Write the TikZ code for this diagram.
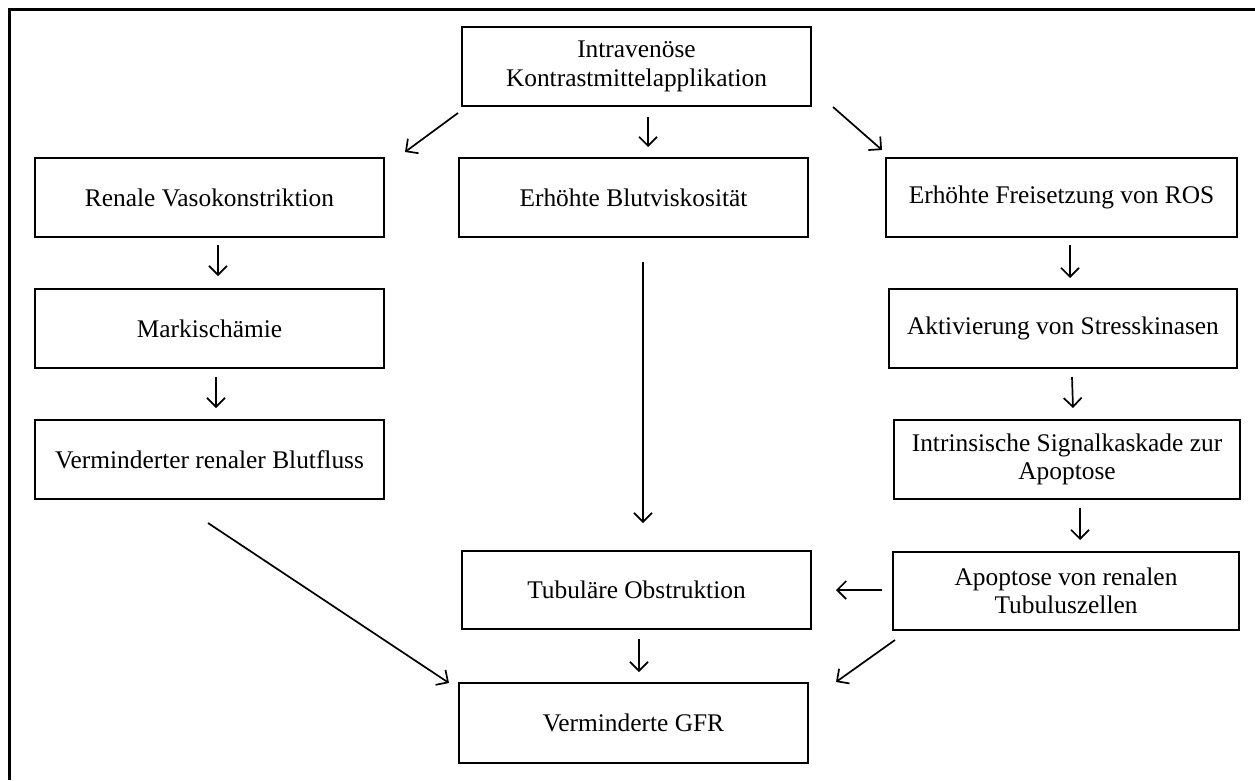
\documentclass[tikz,border=0pt]{standalone}
\usepackage{fontspec}
\setmainfont{Liberation Serif}
\usetikzlibrary{arrows.meta}
\begin{document}
\begin{tikzpicture}[x=1pt,y=-1pt,
  box/.style={draw,line width=2pt,rectangle,inner sep=0pt,outer sep=0pt,
    minimum height=79pt,align=center,
    font=\fontsize{25.4}{28.5}\selectfont},
  conn/.style={line width=1.7pt,-{Straight Barb[length=9pt,width=18pt,line width=1.7pt]}},
  frame/.style={line width=3pt}]
\useasboundingbox (0,0) rectangle (1255,780);
\draw[frame] (9,780) -- (9,9) -- (1255,9);

\node[box,minimum width=349pt] (top) at (636.5,66.5) {Intravenöse\\Kontrastmittelapplikation};
\node[box,minimum width=349pt] (ren) at (209.5,197.5) {Renale Vasokonstriktion};
\node[box,minimum width=349pt] (blut) at (633.5,197.5) {Erhöhte Blutviskosität};
\node[box,minimum width=351pt] (ros) at (1061.5,197.5) {Erhöhte Freisetzung von ROS};
\node[box,minimum width=349pt] (mark) at (209.5,328.5) {Markischämie};
\node[box,minimum width=348pt] (akt) at (1063,328.5) {Aktivierung von Stresskinasen};
\node[box,minimum width=349pt] (verm) at (209.5,459.5) {Verminderter renaler Blutfluss};
\node[box,minimum width=346pt] (intr) at (1067,459.5) {Intrinsische Signalkaskade zur\\Apoptose};
\node[box,minimum width=346pt,minimum height=78pt] (apop) at (1066,591) {Apoptose von renalen\\Tubuluszellen};
\node[box,minimum width=349pt,minimum height=78pt] (tub) at (636.5,590) {Tubuläre Obstruktion};
\node[box,minimum width=349pt,minimum height=80pt] (gfr) at (633.5,723) {Verminderte GFR};

\draw[conn] ([shift={(-4,7)}]top.south west) -- ([shift={(21,-6)}]ren.north east);
\draw[conn] ([shift={(11.5,11)}]top.south) -- ([shift={(14.5,-11)}]blut.north);
\draw[conn] ([shift={(22,1)}]top.south east) -- ([shift={(-4,-8)}]ros.north west);
\draw[conn] ([shift={(8.5,8)}]ren.south) -- ([shift={(8.5,-13)}]mark.north);
\draw[conn] ([shift={(6.5,9)}]mark.south) -- ([shift={(6.5,-12)}]verm.north);
\draw[conn] ([shift={(8.5,8)}]ros.south) -- ([shift={(7,-11)}]akt.north);
\draw[conn] ([shift={(9,9)}]akt.south) -- ([shift={(6,-12)}]intr.north);
\draw[conn] ([shift={(13,9)}]intr.south) -- ([shift={(14,-12)}]apop.north);
\draw[conn] ([shift={(-11,-1)}]apop.west) -- ([shift={(25,0)}]tub.east);
\draw[conn] ([shift={(9.5,25)}]blut.south) -- ([shift={(6.5,-28)}]tub.north);
\draw[conn] ([shift={(2.5,10)}]tub.south) -- ([shift={(5.5,-11)}]gfr.north);
\draw[conn] ([shift={(-1.5,24)}]verm.south) -- ([shift={(-10,0)}]gfr.north west);
\draw[conn] ([shift={(2,10)}]apop.south west) -- ([shift={(28,-1)}]gfr.north east);
\end{tikzpicture}
\end{document}
